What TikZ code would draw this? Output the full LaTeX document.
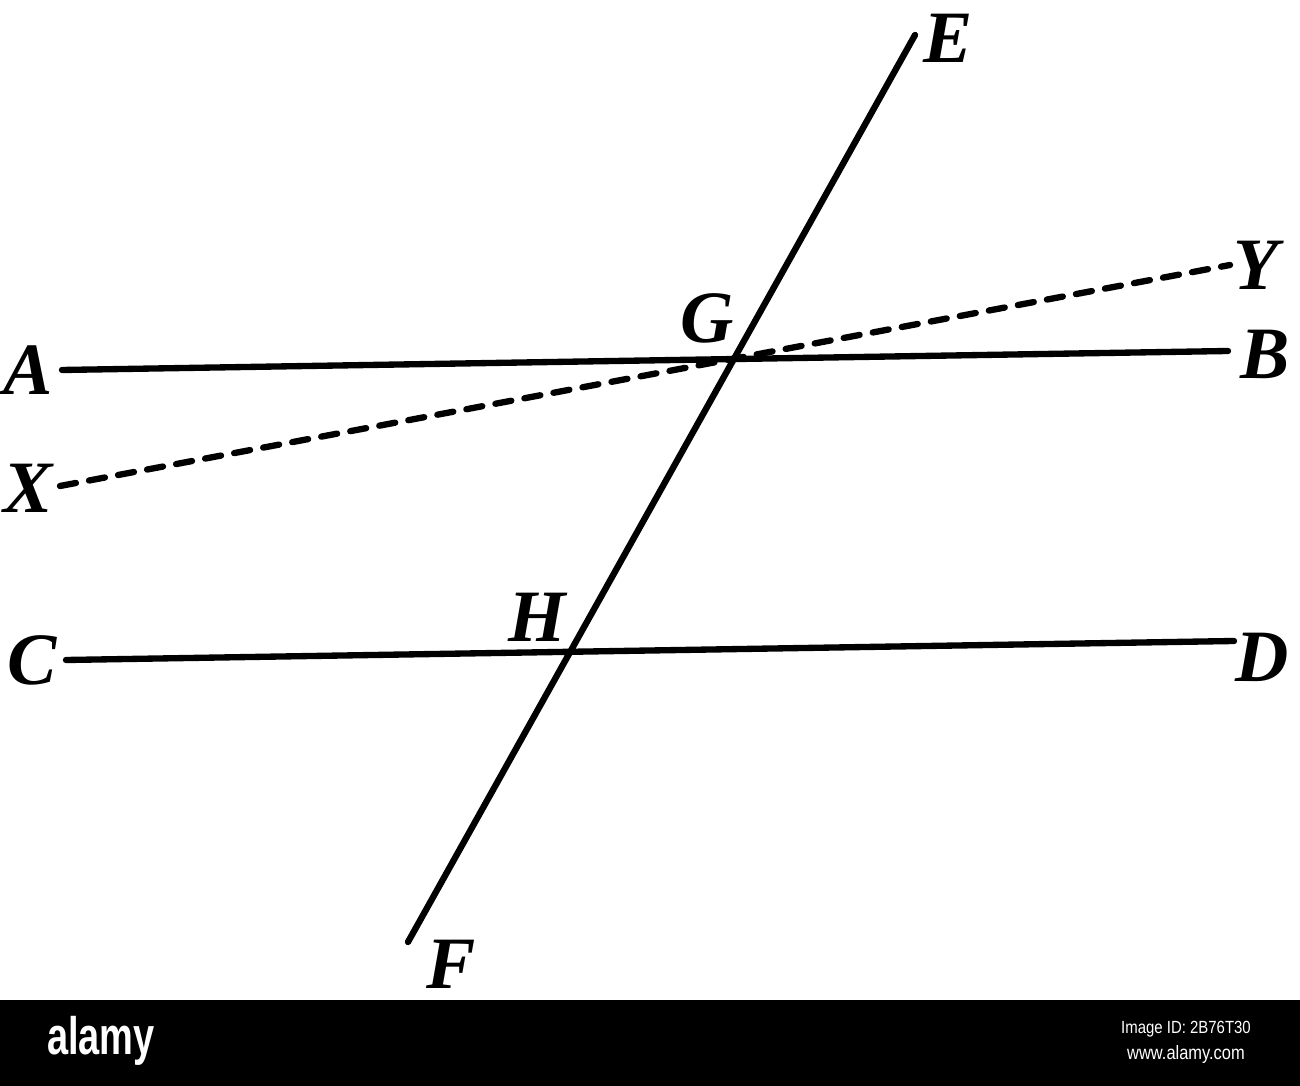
\documentclass[tikz,border=0pt]{standalone}
\usepackage{fontspec}
\newfontfamily\labelfont{Liberation Serif}
\newfontfamily\stampfont{Liberation Sans}
\usetikzlibrary{positioning}

\begin{document}
\begin{tikzpicture}[x=0.01cm,y=-0.01cm,
  line/.style={line width=1.8pt,line cap=round},
  hidden/.style={line width=1.8pt,line cap=round,dash pattern=on 4.6pt off 3.8pt},
  pt/.style={font=\labelfont\fontsize{21}{21}\selectfont\bfseries\itshape,inner sep=0pt},
  stamp/.style={font=\stampfont,text=white,inner sep=0pt}]

\useasboundingbox (0,0) rectangle (1300,1086);

% line ends
\coordinate (a) at (62,370);
\coordinate (b) at (1228,351);
\coordinate (c) at (66,660);
\coordinate (d) at (1234,641);
\coordinate (x) at (60,486);
\coordinate (y) at (1230,265);
\coordinate (e) at (915,35);
\coordinate (f) at (408,942);

% letters
\node[pt](A) at (28,370) {A};
\node[pt](B) at (1265,354) {B};
\node[pt](C) at (32,660) {C};
\node[pt](D) at (1262,657) {D};
\node[pt](X) at (28,488) {X};
\node[pt](Y) at (1256,265) {Y};
\node[pt](E) at (948,38) {E};
\node[pt](F) at (451,964) {F};
\node[pt](G) at (707,318) {G};
\node[pt](H) at (537,617) {H};

\path[draw,line] (a) -- (b)
                 (c) -- (d)
                 (e) -- (f);
\path[draw,hidden] (x) -- (y);

% stock banner
\fill[black] (0,1000) rectangle (1300,1086);
\node[stamp,font=\stampfont\fontsize{15}{15}\selectfont\bfseries,xscale=0.72](logo) at (101,1041) {alamy};
\node[stamp,font=\stampfont\fontsize{5}{5}\selectfont,xscale=0.85](imgid) at (1186,1029) {Image ID: 2B76T30};
\node[stamp,font=\stampfont\fontsize{5.5}{5.5}\selectfont,xscale=0.85](site) at (1186,1054) {www.alamy.com};
\end{tikzpicture}
\end{document}
